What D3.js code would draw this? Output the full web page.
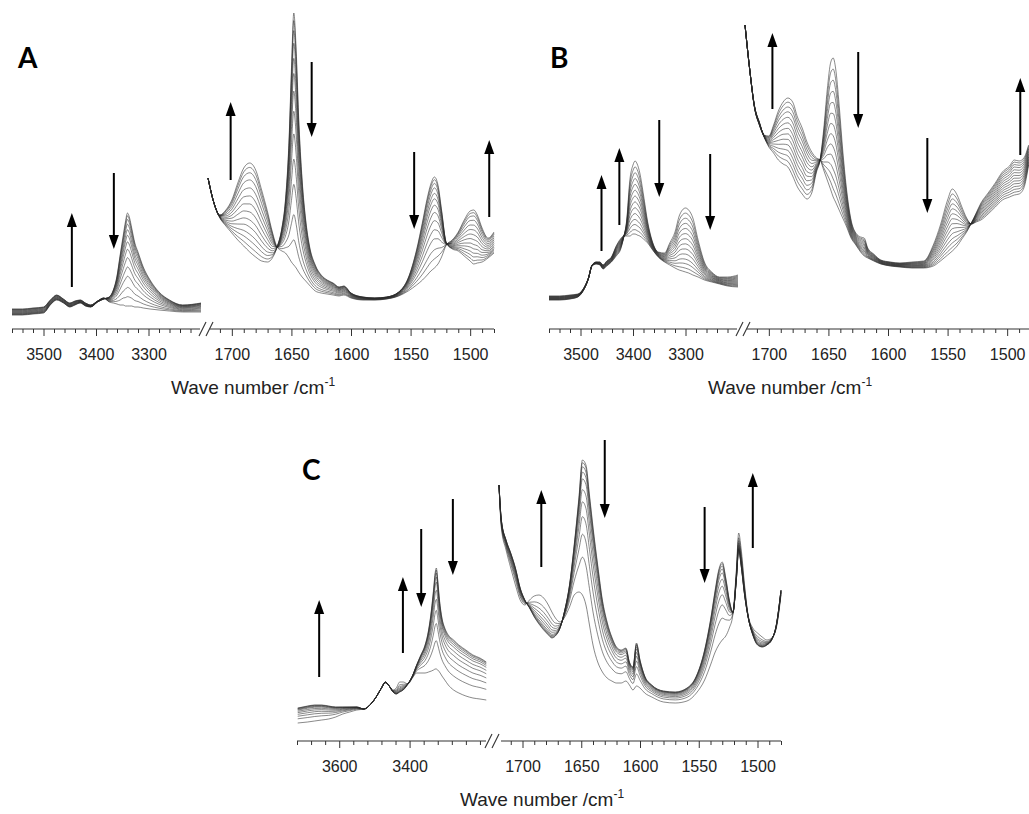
<!DOCTYPE html>
<html>
<head>
<meta charset="utf-8">
<script src="https://cdn.jsdelivr.net/npm/d3@7"></script>
<style>
  body { margin: 0; background: #fff; }
</style>
</head>
<body>
<script>
// ---- data: absorbance (arb. units) ----
// each segment keeps the first spectrum and the last spectrum of the series

// panel A, N-H stretch region
var aLeftWn    = [3560, 3540, 3520, 3500, 3487, 3475, 3462, 3450, 3440, 3430, 3420, 3410, 3397, 3385, 3375, 3367, 3360, 3354, 3348, 3344, 3340, 3336, 3332, 3326, 3320, 3310, 3297, 3280, 3260, 3235, 3200];
var aLeftFirst = [15, 15, 16, 17, 25, 30, 27, 23, 25, 27, 24, 23, 28, 31, 33, 40, 54, 75, 95, 108, 117, 112, 102, 87, 78, 63, 50, 38, 30, 25, 27];
var aLeftLast  = [21, 21, 22, 23, 30, 35, 31, 27, 29, 30, 27, 25, 29, 32, 28, 27, 26, 25, 25, 24, 24, 24, 24, 23, 23, 22, 21, 20, 19, 18, 18];
// panel A, amide region
var aRightWn    = [1720, 1715, 1710, 1705, 1700, 1695, 1690, 1685, 1680, 1675, 1670, 1666, 1662, 1658, 1655, 1652, 1650, 1648, 1646, 1644, 1641, 1638, 1635, 1630, 1625, 1620, 1615, 1610, 1606, 1600, 1590, 1580, 1570, 1560, 1552, 1545, 1540, 1536, 1533, 1530, 1527, 1524, 1520, 1515, 1510, 1505, 1500, 1497, 1494, 1490, 1485, 1480];
var aRightFirst = [152, 127, 112, 104, 97, 90, 84, 78, 73, 69, 68, 72, 83, 102, 130, 190, 260, 317, 280, 215, 150, 110, 85, 65, 55, 50, 47, 43, 44, 37, 33, 32, 33, 38, 52, 80, 108, 132, 146, 153, 145, 120, 87, 81, 79, 74, 69, 66, 67, 68, 72, 77];
var aRightLast  = [152, 127, 115, 120, 130, 147, 162, 167, 160, 140, 118, 98, 83, 79, 77, 72, 68, 65, 62, 58, 53, 49, 45, 39, 37, 36, 35, 34, 35, 32, 30, 30, 31, 34, 39, 45, 50, 55, 59, 62, 66, 73, 85, 90, 98, 110, 119, 120, 115, 102, 92, 98];
var aWeightDown = [1, 0.97, 0.93, 0.88, 0.82, 0.76, 0.69, 0.61, 0.52, 0.42, 0.32, 0.2, 0.1, 0];
var aWeightUp   = [0, 0.06, 0.13, 0.2, 0.28, 0.36, 0.45, 0.54, 0.63, 0.72, 0.81, 0.89, 0.95, 1];
// arrows: [wave number, from, to]
var aArrows = [[3446, 43, 117], [3366, 157, 81], [1701, 150, 228], [1633, 268, 193], [1547, 178, 101], [1484, 113, 190]];

// panel B
var bLeftWn    = [3560, 3540, 3520, 3505, 3495, 3485, 3478, 3470, 3463, 3457, 3450, 3441, 3432, 3424, 3418, 3412, 3406, 3400, 3396, 3392, 3387, 3380, 3372, 3364, 3352, 3340, 3330, 3320, 3312, 3306, 3300, 3294, 3286, 3276, 3264, 3250, 3235, 3220, 3200];
var bLeftFirst = [34, 34, 35, 36, 41, 52, 64, 66, 65, 61, 64, 68, 74, 80, 92, 110, 150, 165, 169, 166, 157, 135, 108, 90, 78, 77, 87, 98, 114, 120, 122, 120, 112, 90, 68, 58, 53, 53, 55];
var bLeftLast  = [30, 30, 31, 33, 39, 51, 65, 68, 68, 65, 69, 73, 84, 91, 94, 94, 94, 96, 96, 95, 94, 91, 87, 81, 73, 68, 65, 62, 60, 59, 58, 57, 55, 53, 50, 48, 46, 44, 43];
var bRightWn    = [1720, 1716, 1712, 1708, 1704, 1700, 1696, 1692, 1688, 1684, 1680, 1676, 1672, 1668, 1664, 1660, 1657, 1654, 1651, 1648, 1646, 1644, 1641, 1638, 1635, 1631, 1627, 1623, 1620, 1617, 1612, 1606, 1598, 1590, 1580, 1570, 1562, 1556, 1550, 1546, 1542, 1538, 1534, 1530, 1526, 1522, 1516, 1510, 1504, 1498, 1494, 1490, 1486, 1482];
var bRightFirst = [305, 260, 222, 205, 193, 183, 177, 170, 166, 163, 154, 143, 136, 131, 137, 158, 170, 200, 240, 268, 272, 262, 225, 180, 143, 110, 97, 93, 92, 82, 76, 70, 68, 67, 68, 69, 85, 105, 130, 141, 135, 123, 112, 106, 108, 110, 116, 123, 130, 133, 135, 136, 142, 165];
var bRightLast  = [305, 260, 224, 208, 195, 194, 205, 219, 228, 232, 228, 213, 202, 188, 178, 172, 170, 160, 150, 140, 133, 128, 120, 112, 104, 92, 85, 78, 74, 72, 69, 66, 64, 63, 62, 62, 64, 69, 75, 79, 84, 91, 98, 107, 117, 127, 137, 147, 158, 164, 170, 169, 172, 185];
var bWeightDown = [1, 0.92, 0.84, 0.76, 0.68, 0.6, 0.52, 0.44, 0.36, 0.28, 0.2, 0.13, 0.06, 0];
var bWeightUp   = [0, 0.08, 0.16, 0.24, 0.32, 0.4, 0.48, 0.56, 0.64, 0.72, 0.8, 0.87, 0.94, 1];
var bArrows = [[3460, 79, 155], [3426, 105, 182], [3350, 210, 133], [3253, 176, 100], [1697, 221, 297], [1625, 278, 202], [1567, 192, 117], [1489, 175, 252]];

// panel C
var cLeftWn    = [3718, 3690, 3670, 3650, 3630, 3610, 3590, 3570, 3550, 3530, 3510, 3495, 3480, 3469, 3458, 3447, 3438, 3428, 3418, 3405, 3392, 3380, 3368, 3356, 3346, 3338, 3332, 3327, 3324, 3320, 3315, 3308, 3300, 3290, 3275, 3260, 3240, 3220, 3200, 3182];
var cLeftFirst = [32, 34, 35, 35, 34, 33, 33, 33, 33, 31, 36, 43, 52, 58, 54, 48, 46, 48, 50, 56, 64, 75, 85, 95, 110, 130, 150, 168, 172, 160, 140, 122, 112, 105, 100, 95, 90, 85, 82, 78];
var cLeftLast  = [17, 18, 19, 20, 21, 23, 26, 28, 30, 31, 36, 43, 52, 57, 54, 50, 52, 58, 58, 56, 62, 67, 67, 67, 68, 69, 70, 71, 71, 70, 68, 64, 60, 55, 50, 47, 44, 42, 41, 40];
var cRightWn    = [1720, 1718, 1714, 1710, 1706, 1702, 1698, 1694, 1690, 1686, 1682, 1678, 1675, 1672, 1668, 1664, 1660, 1656, 1652, 1649, 1646, 1643, 1640, 1636, 1632, 1628, 1624, 1620, 1616, 1612, 1609, 1606, 1603, 1600, 1596, 1590, 1580, 1570, 1560, 1552, 1545, 1540, 1536, 1533, 1530, 1527, 1524, 1521, 1518, 1516, 1514, 1511, 1508, 1504, 1500, 1496, 1492, 1488, 1484, 1480];
var cRightFirst = [255, 220, 200, 187, 172, 152, 140, 132, 123, 116, 110, 105, 102, 104, 112, 130, 155, 195, 242, 280, 275, 245, 213, 175, 140, 118, 103, 93, 90, 92, 78, 73, 97, 80, 64, 55, 49, 48, 52, 64, 90, 120, 150, 170, 178, 162, 140, 128, 160, 190, 175, 145, 123, 105, 95, 93, 95, 100, 115, 150];
var cRightLast  = [255, 212, 190, 172, 155, 140, 135, 140, 144, 145, 142, 135, 128, 122, 118, 123, 133, 145, 148, 145, 135, 115, 95, 78, 68, 62, 59, 57, 57, 59, 55, 50, 54, 52, 47, 43, 38, 37, 39, 47, 60, 75, 88, 95, 100, 104, 112, 125, 170, 207, 192, 155, 125, 112, 107, 103, 100, 102, 112, 145];
var cWeightDown = [1, 0.98, 0.95, 0.91, 0.86, 0.78, 0.69, 0.58, 0.45, 0.28, 0];
var cWeightUp   = [0, 0.02, 0.05, 0.09, 0.14, 0.22, 0.31, 0.42, 0.55, 0.72, 1];
var cArrows = [[3657, 63, 140], [3419, 87, 163], [3367, 211, 133], [3277, 241, 165], [1684, 173, 250], [1630, 300, 222], [1545, 233, 157], [1504, 192, 267]];

// tick labels
var nhTicksAB = [3500, 3400, 3300];
var nhTicksC  = [3600, 3400];
var amideTicks = [1700, 1650, 1600, 1550, 1500];

window.onload = function(){

  var w = 1029, h = 814;

  var svg = d3.select("body")
    .append("svg")
    .attr("width", w)
    .attr("height", h)
    .attr("class", "container")
    .style("background-color", "#fff");

  // layout of the three panels (pixels)
  var panels = [
    { letter: "A", lx: 18, ly: 68, axisY: 329, yRange: [330, 0], labelX: 253, labelY: 394,
      left:  { wn: aLeftWn,  first: aLeftFirst,  last: aLeftLast,  dom: [3560, 3200], rng: [12, 201],  minor: 20, major: nhTicksAB },
      right: { wn: aRightWn, first: aRightFirst, last: aRightLast, dom: [1720, 1480], rng: [208, 494] },
      wDown: aWeightDown, wUp: aWeightUp, arrows: aArrows, breakX: 199 },
    { letter: "B", lx: 550, ly: 68, axisY: 329, yRange: [330, 0], labelX: 790, labelY: 394,
      left:  { wn: bLeftWn,  first: bLeftFirst,  last: bLeftLast,  dom: [3560, 3200], rng: [549, 738], minor: 20, major: nhTicksAB },
      right: { wn: bRightWn, first: bRightFirst, last: bRightLast, dom: [1720, 1480], rng: [745, 1031] },
      wDown: bWeightDown, wUp: bWeightUp, arrows: bArrows, breakX: 736 },
    { letter: "C", lx: 302, ly: 480, axisY: 741, yRange: [740, 410], labelX: 542, labelY: 806,
      left:  { wn: cLeftWn,  first: cLeftFirst,  last: cLeftLast,  dom: [3720, 3180], rng: [297, 487], minor: 40, major: nhTicksC },
      right: { wn: cRightWn, first: cRightFirst, last: cRightLast, dom: [1720, 1480], rng: [499, 781] },
      wDown: cWeightDown, wUp: cWeightUp, arrows: cArrows, breakX: 485 }
  ];

  panels.forEach(function(p){

    var y = d3.scaleLinear().domain([0, 330]).range(p.yRange);
    var g = svg.append("g").attr("class", "panel");

    [p.left, p.right].forEach(function(seg, si){

      var x = d3.scaleLinear().domain(seg.dom).range(seg.rng);
      seg.x = x;

      // family of spectra: shared baseline plus decreasing and increasing bands
      var curves = p.wDown.map(function(wd, i){
        var wu = p.wUp[i];
        return seg.wn.map(function(k, j){
          var base = Math.min(seg.first[j], seg.last[j]);
          return { wn: k, v: base + wd * (seg.first[j] - base) + wu * (seg.last[j] - base) };
        });
      });

      var line = d3.line()
        .x(function(d){ return x(d.wn); })
        .y(function(d){ return y(d.v); })
        .curve(d3.curveMonotoneX);

      g.selectAll("path.spec" + si)
        .data(curves)
        .enter()
        .append("path")
        .attr("class", "spec" + si)
        .attr("d", line)
        .attr("fill", "none")
        .attr("stroke", "#2a2a2a")
        .attr("stroke-opacity", 0.62)
        .attr("stroke-width", 0.9);

      // ticks
      var minorVals, majorVals, step;
      if (si === 0) {
        step = seg.minor;
        majorVals = seg.major;
        minorVals = d3.range(seg.dom[0], seg.dom[1] + 10, -step).filter(function(t){ return majorVals.indexOf(t) < 0; });
      } else {
        majorVals = amideTicks;
        minorVals = d3.range(1710, 1479, -10).filter(function(t){ return majorVals.indexOf(t) < 0; });
      }

      var ax = g.append("g").attr("transform", "translate(0," + p.axisY + ")");
      ax.append("g")
        .call(d3.axisBottom(x).tickValues(minorVals).tickSize(4).tickSizeOuter(0).tickFormat(""))
        .call(function(s){ s.select(".domain").remove(); });
      ax.append("g")
        .call(d3.axisBottom(x).tickValues(majorVals).tickSize(7).tickSizeOuter(0).tickPadding(13).tickFormat(d3.format("d")))
        .call(function(s){ s.select(".domain").remove(); });

      ax.selectAll("line").attr("stroke", "#333").attr("stroke-width", 1);
      ax.selectAll("text")
        .attr("fill", "#222")
        .style("font-family", "'Liberation Sans', Arial, sans-serif")
        .style("font-size", "16px");

      // axis line of the segment
      var r = seg.rng;
      ax.append("line")
        .attr("x1", si === 0 ? r[0] : r[0] + 2)
        .attr("x2", si === 0 ? r[1] - 1 : Math.min(r[1], w))
        .attr("y1", 0).attr("y2", 0)
        .attr("stroke", "#333").attr("stroke-width", 1.2);
    });

    // axis break marks
    var bx = p.breakX;
    [0, 7].forEach(function(dx){
      g.append("line")
        .attr("x1", bx + dx).attr("y1", p.axisY + 7)
        .attr("x2", bx + dx + 7).attr("y2", p.axisY - 7)
        .attr("stroke", "#333").attr("stroke-width", 1.1);
    });

    // arrows
    p.arrows.forEach(function(a){
      var x = a[0] > 2500 ? p.left.x : p.right.x;
      var ax0 = x(a[0]), y0 = y(a[1]), y1 = y(a[2]);
      var dir = y1 < y0 ? -1 : 1;
      var head = 14;
      g.append("line")
        .attr("x1", ax0).attr("x2", ax0)
        .attr("y1", y0).attr("y2", y1 - dir * head + dir * 1)
        .attr("stroke", "#000").attr("stroke-width", 2);
      g.append("path")
        .attr("d", "M" + (ax0 - 5) + "," + (y1 - dir * head) + "L" + (ax0 + 5) + "," + (y1 - dir * head) + "L" + ax0 + "," + y1 + "Z")
        .attr("fill", "#000");
    });

    // panel letter
    g.append("text")
      .attr("x", p.lx).attr("y", p.ly)
      .text(p.letter)
      .style("font-family", "Lato, 'Open Sans', sans-serif")
      .style("font-weight", "bold")
      .style("font-size", "28px")
      .attr("fill", "#000");

    // axis title
    var t = g.append("text")
      .attr("x", p.labelX).attr("y", p.labelY)
      .attr("text-anchor", "middle")
      .style("font-family", "'Liberation Sans', Arial, sans-serif")
      .style("font-size", "19px")
      .attr("fill", "#222");
    t.append("tspan").text("Wave number /cm");
    t.append("tspan").attr("dy", -8).style("font-size", "12px").text("-1");
  });

};
</script>
</body>
</html>
